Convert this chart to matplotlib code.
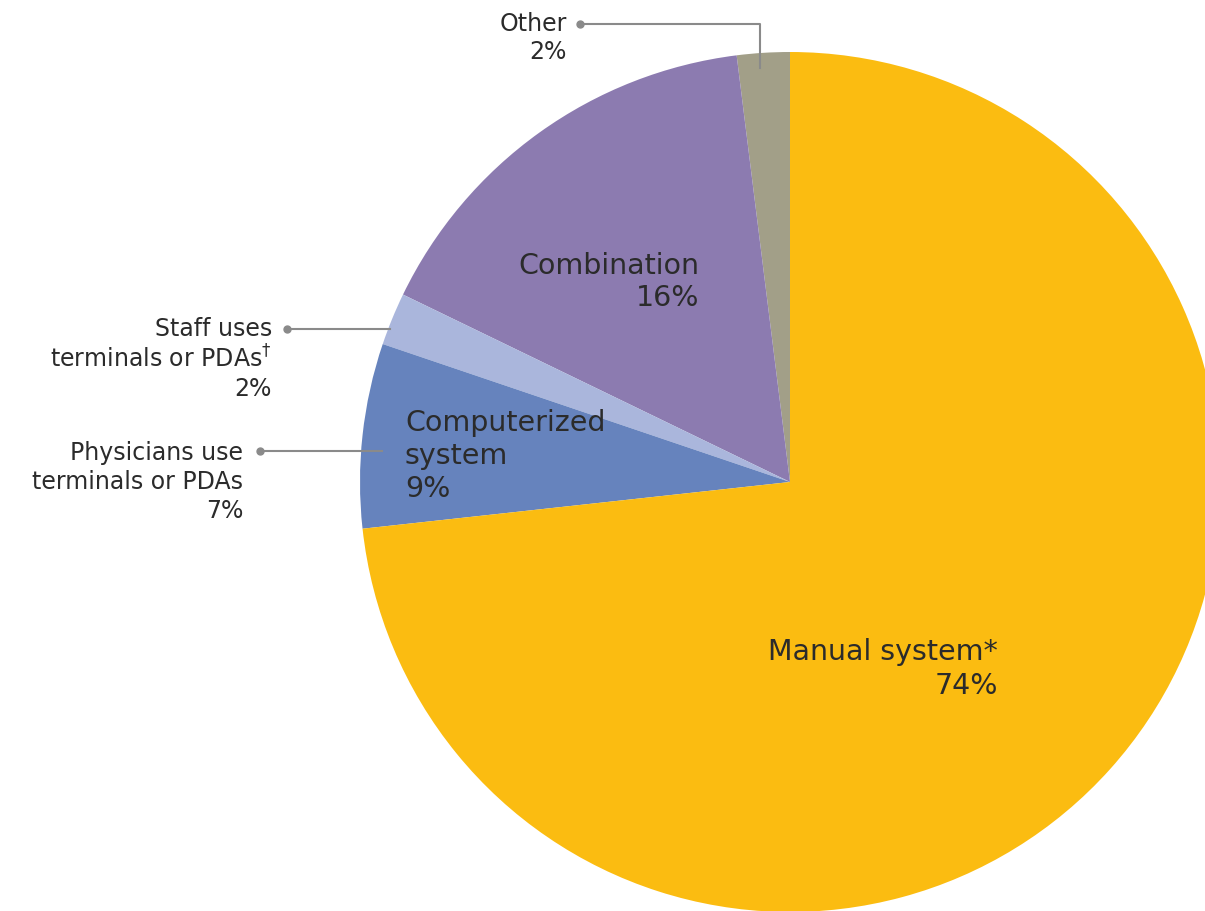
import matplotlib.pyplot as plt

plt.rcParams['font.family'] = ['DejaVu Sans']

# slices, counterclockwise from the top
labels = ['Other', 'Combination', 'Staff uses terminals or PDAs',
          'Physicians use terminals or PDAs', 'Manual system*']
values = [2, 16, 2, 7, 74]
colors = ['#A29F88', '#8C7BB0', '#AAB6DC', '#6683BD', '#FBBC11']

W, H = 1205, 911
cx, cy, r = 790, 482, 430


def px(x, y):
    # pixel position -> data coords (pie radius 1 at origin)
    return (x - cx) / r, (cy - y) / r


fig = plt.figure(figsize=(W / 100, H / 100), dpi=100)
ax = fig.add_axes([0, 0, 1, 1])
ax.pie(values, colors=colors, startangle=90, counterclock=True,
       radius=1, center=(0, 0), wedgeprops=dict(linewidth=0))
ax.set_aspect('auto')
ax.set_xlim(-cx / r, (W - cx) / r)
ax.set_ylim((cy - H) / r, cy / r)
ax.axis('off')

txt = '#2b2b2b'
line_c = '#8a8a8a'

# labels inside slices
ax.text(*px(699, 282), 'Combination\n16%', ha='right', va='center',
        multialignment='right', fontsize=20.5, color=txt, linespacing=1.2)
ax.text(*px(998, 669), 'Manual system*\n74%', ha='right', va='center',
        multialignment='right', fontsize=20.5, color=txt, linespacing=1.3)
ax.text(*px(405, 456), 'Computerized\nsystem\n9%', ha='left', va='center',
        multialignment='left', fontsize=20.5, color=txt, linespacing=1.22)

# outside labels with leader lines
ax.text(*px(567, 38), 'Other\n2%', ha='right', va='center',
        multialignment='right', fontsize=17, color=txt, linespacing=1.2)
ax.plot(*zip(px(580, 24), px(760, 24), px(760, 68)), color=line_c, lw=1.5)
ax.plot(*px(580, 24), 'o', color=line_c, ms=5)

ax.text(*px(272, 359), 'Staff uses\nterminals or PDAs$^{\\dagger}$\n2%',
        ha='right', va='center', multialignment='right', fontsize=17,
        color=txt, linespacing=1.22)
ax.plot(*zip(px(287, 329), px(390, 329)), color=line_c, lw=1.5)
ax.plot(*px(287, 329), 'o', color=line_c, ms=5)

ax.text(*px(243, 482), 'Physicians use\nterminals or PDAs\n7%', ha='right',
        va='center', multialignment='right', fontsize=17, color=txt,
        linespacing=1.27)
ax.plot(*zip(px(260, 451), px(382, 451)), color=line_c, lw=1.5)
ax.plot(*px(260, 451), 'o', color=line_c, ms=5)

fig.savefig('out.png', dpi=100)
